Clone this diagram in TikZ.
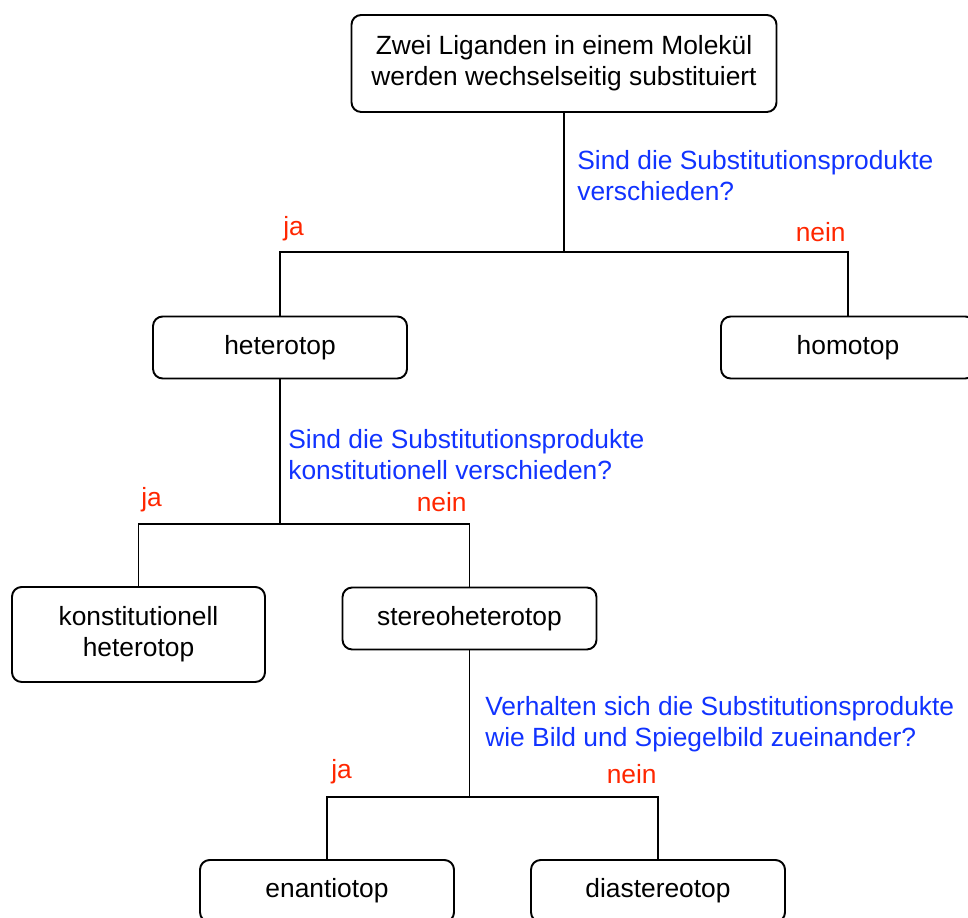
\documentclass[tikz,border=0pt]{standalone}
\usepackage{fontspec}
\setmainfont{Liberation Sans}
\definecolor{qblue}{RGB}{17,51,255}
\definecolor{ared}{RGB}{255,38,0}
\newcommand{\diagfont}{\fontsize{15pt}{17.6pt}\selectfont}
\begin{document}
\begin{tikzpicture}[x=0.02cm, y=-0.02cm,
    every node/.style={font=\diagfont},
    topbox/.style={draw, line width=1.1pt, rounded corners=5.5pt, align=center, minimum width=254*0.02cm, minimum height=62*0.02cm},
    question/.style={text=qblue, align=left, inner sep=0pt},
    answer/.style={text=ared, inner sep=0pt}]
    \useasboundingbox (0,0) rectangle (968,918);

    % Start
    \node[topbox, minimum width=425*0.02cm, minimum height=97*0.02cm] (start) at (564,63.5) {Zwei Liganden in einem Molekül\\werden wechselseitig substituiert};
    \node[question, anchor=west] (q1) at (577,176) {Sind die Substitutionsprodukte\\verschieden?};

    % First level
    \node[topbox] (het) at (280,347.5) {heterotop};
    \node[topbox] (hom) at (848,347.5) {homotop};
    \coordinate (j1) at (564,252);
    \draw[line width=1.1pt] (start) -- (j1);
    \draw[line width=1.1pt] (het.north) |- (j1) -| (hom.north);
    \node[answer, anchor=west] (ja1) at (283,229) {ja};
    \node[answer, anchor=east] (nein1) at (846,232) {nein};

    % Second level
    \node[question, anchor=west] (q2) at (288,455) {Sind die Substitutionsprodukte\\konstitutionell verschieden?};
    \node[topbox, minimum width=253*0.02cm, minimum height=95*0.02cm] (konst) at (138.5,634.5) {konstitutionell\\heterotop};
    \node[topbox] (stereo) at (469.5,618.5) {stereoheterotop};
    \coordinate (j2) at (280,524);
    \draw[line width=1.1pt] (het) -- (j2);
    \draw[line width=1.1pt] (konst.north) |- (j2) -| (stereo.north);
    \node[answer, anchor=west] (ja2) at (141,500) {ja};
    \node[answer, anchor=east] (nein2) at (467,502) {nein};

    % Third level
    \node[question, anchor=west] (q3) at (485,724) {Verhalten sich die Substitutionsprodukte\\wie Bild und Spiegelbild zueinander?};
    \node[topbox] (enan) at (327,891) {enantiotop};
    \node[topbox] (dia) at (658,891) {diastereotop};
    \coordinate (j3) at (469.5,797);
    \draw[line width=1.1pt] (stereo) -- (j3);
    \draw[line width=1.1pt] (enan.north) |- (j3) -| (dia.north);
    \node[answer, anchor=west] (ja3) at (331,772) {ja};
    \node[answer, anchor=east] (nein3) at (657,774) {nein};
\end{tikzpicture}
\end{document}
